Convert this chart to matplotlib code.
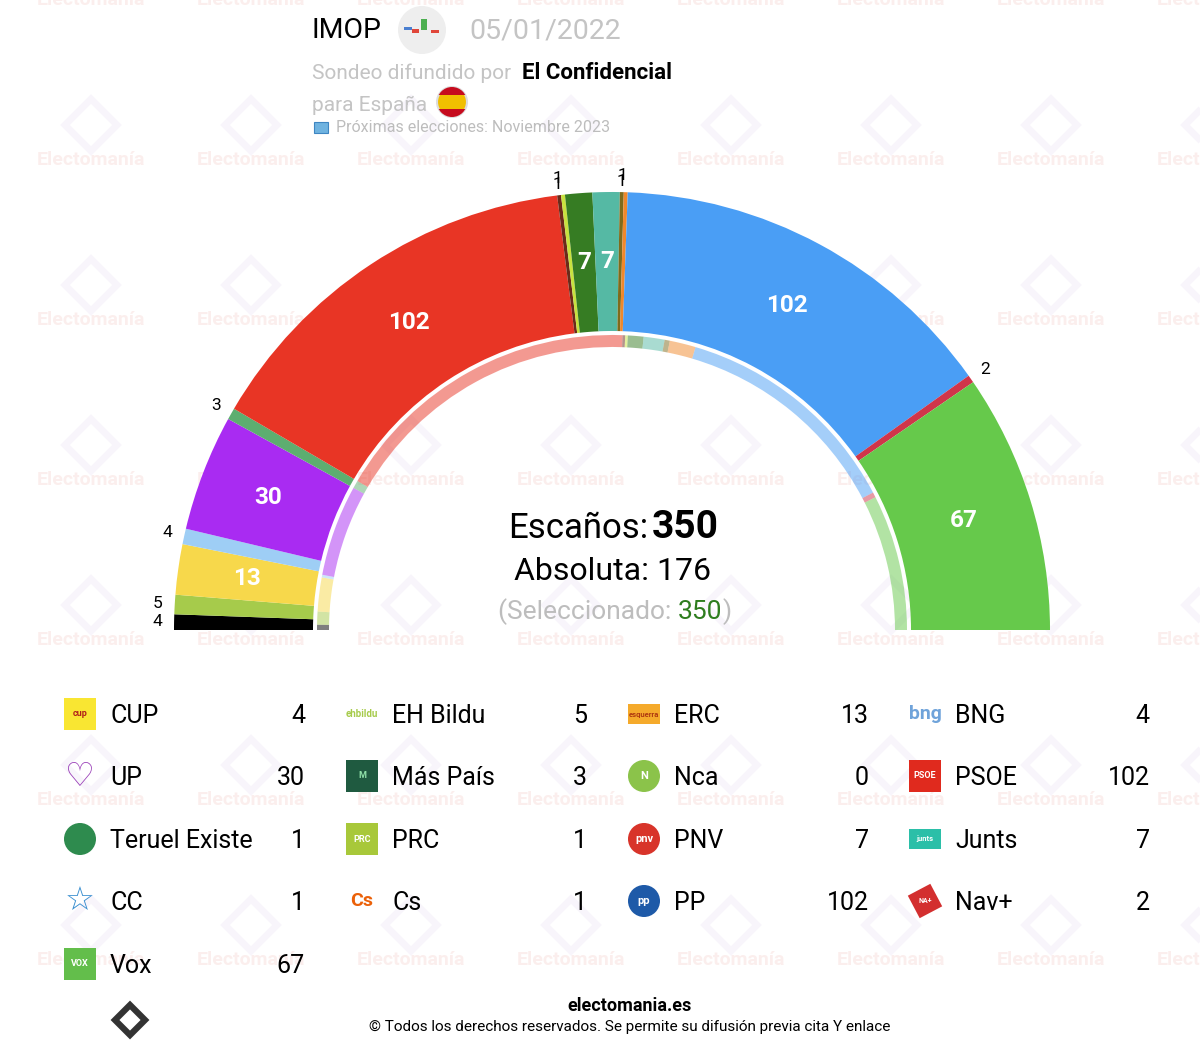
import numpy as np
import matplotlib
matplotlib.use("Agg")
import matplotlib.pyplot as plt
from matplotlib.patches import Wedge, Circle, Rectangle, RegularPolygon

plt.rcParams['font.family'] = ['Roboto', 'DejaVu Sans']

# ---- data -------------------------------------------------------------
parties = ['CUP', 'EH Bildu', 'ERC', 'BNG', 'UP', 'Más País', 'Nca', 'PSOE',
           'Teruel Existe', 'PRC', 'PNV', 'Junts', 'CC', 'Cs', 'PP', 'Nav+', 'Vox']
seats = [4, 5, 13, 4, 30, 3, 0, 102, 1, 1, 7, 7, 1, 1, 102, 2, 67]
prev_seats = [2, 5, 13, 1, 35, 3, 0, 120, 1, 1, 6, 8, 2, 10, 89, 2, 52]
colors = ['#000000', '#A6CB4B', '#F7D84B', '#9ECEF5', '#A92BF2', '#5DAE70', '#8BC34A',
          '#E83525', '#6B2A1A', '#C8E23F', '#367C23', '#55B9A4', '#7F6B1C', '#F0882B',
          '#4A9EF5', '#D0354A', '#66C94B']
total = 350
majority = 176

# ---- figure -----------------------------------------------------------
W, H = 1200, 1064
fig = plt.figure(figsize=(W / 100, H / 100), dpi=100)
ax = fig.add_axes([0, 0, 1, 1])
ax.set_xlim(0, W)
ax.set_ylim(H, 0)
ax.axis('off')
renderer = fig.canvas.get_renderer()

# faint watermark
for gx in range(91, 1300, 160):
    for gy in range(0, 1064, 160):
        ax.text(gx, gy, 'Electomanía', ha='center', va='center', fontsize=14,
                fontweight='bold', color='#F6D6D2', alpha=0.4, zorder=0)
        ax.add_patch(RegularPolygon((gx, gy - 35), 4, radius=26, orientation=0,
                                    fill=False, lw=5, ec='#E6DAF0', alpha=0.25, zorder=0))

cx, cy = 612, 630
R_out, w_out = 438, 139
R_in, w_in = 295, 12
k = 180.0 / total


def ang(c):
    return 180.0 - c * k


# outer ring (poll) and inner ring (previous)
cum = 0
cum_prev = 0
prev_small = -10
for p, s, sp, col in zip(parties, seats, prev_seats, colors):
    a0, a1 = ang(cum), ang(cum + s)
    if s > 0:
        ax.add_patch(Wedge((cx, cy), R_out, -a0, -a1, width=w_out, fc=col, ec='none', zorder=2))
        am = np.radians(ang(cum + s / 2))
        if s >= 7:
            r = R_out - w_out / 2
            ax.text(cx + r * np.cos(am), cy - r * np.sin(am), str(s), ha='center', va='center',
                    color='white', fontsize=17.5, fontweight='bold', zorder=3)
        else:
            r = R_out + 17
            # neighbouring one-seat labels sit almost on top of each other
            if cum - prev_small <= 1:
                am = np.radians(ang(cum - 0.6))
                r -= 6
            ax.text(cx + r * np.cos(am), cy - r * np.sin(am), str(s), ha='center', va='center',
                    color='black', fontsize=12.5, zorder=3)
            prev_small = cum
    b0, b1 = ang(cum_prev), ang(cum_prev + sp)
    if sp > 0:
        ax.add_patch(Wedge((cx, cy), R_in, -b0, -b1, width=w_in, fc=col, alpha=0.5,
                           ec='none', zorder=2))
    cum += s
    cum_prev += sp


def row(x, y, parts):
    for s, kw in parts:
        t = ax.text(x, y, s, ha='left', va='center', **kw)
        bb = t.get_window_extent(renderer=renderer)
        x = ax.transData.inverted().transform((bb.x1, bb.y0))[0]
    return x


# centre text
ax.text(648, 528, 'Escaños:', ha='right', va='center', fontsize=25, color='black')
ax.text(652, 528, str(total), ha='left', va='center', fontsize=28, fontweight='bold', color='black')
ax.text(612, 571, f'Absoluta: {majority}', ha='center', va='center', fontsize=23, color='black')
row(498, 612, [('(Seleccionado: ', dict(fontsize=19, color='#BDBDBD')),
               (str(sum(seats)), dict(fontsize=19, color='#2E7D1E')),
               (')', dict(fontsize=19, color='#BDBDBD'))])

# header
ax.text(312, 31, 'IMOP', ha='left', va='center', fontsize=20.5, color='black')
ax.add_patch(Circle((422, 30), 24, fc='#EEEEEE', ec='none'))
ax.add_patch(Rectangle((404, 27), 8, 3, fc='#4A7FD0'))
ax.add_patch(Rectangle((412, 29), 7, 4, fc='#E0463A'))
ax.add_patch(Rectangle((421, 19), 6, 11, fc='#4CAF50'))
ax.add_patch(Rectangle((431, 30), 8, 3, fc='#E0463A'))
ax.text(469, 31, '05/01/2022', ha='left', va='center', fontsize=20.5, color='#C4C4C4')
ax.text(312, 73, 'Sondeo difundido por', ha='left', va='center', fontsize=15, color='#C4C4C4')
ax.text(522, 73, 'El Confidencial', ha='left', va='center', fontsize=16,
        fontweight='bold', color='black')
ax.text(312, 105, 'para España', ha='left', va='center', fontsize=15, color='#C4C4C4')
flag = Circle((452, 102), 15, fc='#F1BF00', ec='#DDDDDD', lw=1.5)
ax.add_patch(flag)
for yy in (87, 109):
    band = Rectangle((436, yy), 32, 8, fc='#C60B1E', ec='none')
    ax.add_patch(band)
    band.set_clip_path(flag)
ax.add_patch(Rectangle((314, 122), 14, 11, fc='#6FB3E0', ec='#3E86C2', lw=0.8))
ax.text(336, 127, 'Próximas elecciones: Noviembre 2023', ha='left', va='center',
        fontsize=11.5, color='#BDBDBD')

# legend
col_x = [80, 362, 644, 925]
row_y = [714, 776, 839, 901, 964]
icon_style = {
    'CUP': ('sq', '#F9E632', 'cup', '#B0201A'),
    'EH Bildu': ('txt', '#A6CB4B', 'ehbildu', None),
    'ERC': ('rect', '#F5AA2B', 'esquerra', '#B03A10'),
    'BNG': ('txt', '#6FA3DA', 'bng', None),
    'UP': ('sym', '#9A3FB8', '♡', None),
    'Más País': ('sq', '#1F5A40', 'M', '#8FE0A8'),
    'Nca': ('circ', '#8BC34A', 'N', 'white'),
    'PSOE': ('sq', '#E02A1E', 'PSOE', 'white'),
    'Teruel Existe': ('circ', '#2E8B4E', '', 'white'),
    'PRC': ('sq', '#A8C83A', 'PRC', 'white'),
    'PNV': ('circ', '#D8342A', 'pnv', 'white'),
    'Junts': ('rect', '#2BBFA8', 'junts', 'white'),
    'CC': ('sym', '#3A8FD0', '☆', None),
    'Cs': ('txt', '#EB6109', 'Cs', None),
    'PP': ('circ', '#1E5AA8', 'pp', 'white'),
    'Nav+': ('dia', '#D32F2F', 'NA+', 'white'),
    'Vox': ('sq', '#63BE4B', 'VOX', 'white'),
}
for i, (p, s) in enumerate(zip(parties, seats)):
    x0 = col_x[i % 4]
    y0 = row_y[i // 4]
    kind, c, t, tc = icon_style[p]
    if kind == 'sq':
        ax.add_patch(Rectangle((x0 - 16, y0 - 16), 32, 32, fc=c, ec='none', zorder=2))
        ax.text(x0, y0, t, ha='center', va='center', fontsize=6.5, fontweight='bold',
                color=tc, zorder=3)
    elif kind == 'rect':
        ax.add_patch(Rectangle((x0 - 16, y0 - 10), 32, 20, fc=c, ec='none', zorder=2))
        ax.text(x0, y0, t, ha='center', va='center', fontsize=5.5, fontweight='bold',
                color=tc, zorder=3)
    elif kind == 'circ':
        ax.add_patch(Circle((x0, y0), 16, fc=c, ec='none', zorder=2))
        ax.text(x0, y0, t, ha='center', va='center', fontsize=8, fontweight='bold',
                color=tc, zorder=3)
    elif kind == 'dia':
        ax.add_patch(RegularPolygon((x0, y0), 4, radius=18, orientation=0.3, fc=c,
                                    ec='none', zorder=2))
        ax.text(x0, y0, t, ha='center', va='center', fontsize=5, fontweight='bold',
                color=tc, zorder=3)
    elif kind == 'sym':
        ax.text(x0, y0, t, ha='center', va='center', fontsize=24, color=c,
                family='DejaVu Sans', zorder=3)
    else:
        fs = 7 if len(t) > 3 else 14
        ax.text(x0, y0, t, ha='center', va='center', fontsize=fs, fontweight='bold',
                color=c, zorder=3)
    ax.text(x0 + 30, y0 + 2, p, ha='left', va='center', fontsize=18, color='black', zorder=3)
    ax.text(x0 + 225, y0 + 2, str(s), ha='right', va='center', fontsize=18, color='black', zorder=3)

# footer
ax.add_patch(RegularPolygon((130, 1020), 4, radius=15, orientation=0, fc='none',
                            ec='#333333', lw=4.5))
ax.text(630, 1006, 'electomania.es', ha='center', va='center', fontsize=13,
        fontweight='bold', color='black')
ax.text(630, 1027, '© Todos los derechos reservados. Se permite su difusión previa cita Y enlace',
        ha='center', va='center', fontsize=11, color='black')

fig.savefig('out.png', dpi=100, facecolor='white')
